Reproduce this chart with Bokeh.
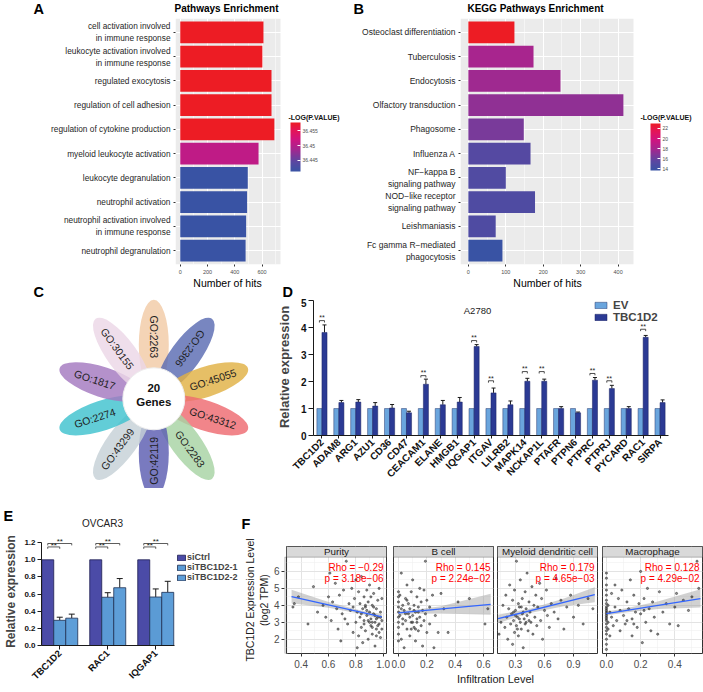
import math
from bokeh.plotting import figure
from bokeh.models import (Range1d, FactorRange, LinearColorMapper, ColorBar, FixedTicker,
                          Label, Legend, LegendItem, Whisker, TeeHead, BoxAnnotation,
                          ColumnDataSource, NumeralTickFormatter)
from bokeh.transform import transform, dodge
from bokeh.layouts import row, column
from bokeh.embed import file_html
from bokeh.resources import INLINE
from bokeh.core.properties import value

FONT = "Liberation Sans"
M = "\u2212"

# ---------------- data ----------------
A_TERMS = ["cell activation involved\nin immune response",
           "leukocyte activation involved\nin immune response",
           "regulated exocytosis",
           "regulation of cell adhesion",
           "regulation of cytokine production",
           "myeloid leukocyte activation",
           "leukocyte degranulation",
           "neutrophil activation",
           "neutrophil activation involved\nin immune response",
           "neutrophil degranulation"]
A_HITS = [610, 602, 669, 669, 690, 574, 495, 490, 483, 479]
A_LOGP = [36.4579, 36.4579, 36.4579, 36.4579, 36.4579, 36.4508, 36.4411, 36.4411, 36.4411, 36.4411]
A_XTICKS = [0, 200, 400, 600]
A_CB_TICKS = [36.445, 36.450, 36.455]

B_TERMS = ["Osteoclast differentiation", "Tuberculosis", "Endocytosis",
           "Olfactory transduction", "Phagosome", "Influenza A",
           "NF" + M + "kappa B\nsignaling pathway",
           "NOD" + M + "like receptor\nsignaling pathway",
           "Leishmaniasis", "Fc gamma R" + M + "mediated\nphagocytosis"]
B_HITS = [123, 174, 246, 414, 148, 166, 100, 178, 73, 91]
B_LOGP = [22.98, 18.0, 17.7, 17.2, 16.5, 15.2, 15.0, 14.9, 14.9, 13.67]
B_XTICKS = [0, 100, 200, 300, 400]
B_CB_TICKS = [14, 16, 18, 20, 22]

C_TERMS = ["GO:2263", "GO:2366", "GO:45055", "GO:43312", "GO:2283",
           "GO:42119", "GO:43299", "GO:2274", "GO:1817", "GO:30155"]
C_COLORS = ["#F2CBA6", "#5A6BB2", "#E0B144", "#EE6A70", "#A7D3A3",
            "#5C5DB1", "#C6D1D7", "#40C2CE", "#A479BF", "#EBD7E7"]
C_CENTER_TEXT = ["20", "Genes"]

D_GENES = ["TBC1D2", "ADAM8", "ARG1", "AZU1", "CD36", "CD47", "CEACAM1", "ELANE", "HMGB1",
           "IQGAP1", "ITGAV", "LILRB2", "MAPK14", "NCKAP1L", "PTAFR", "PTPN6", "PTPRC",
           "PTPRJ", "PYCARD", "RAC1", "SIRPA"]
D_EV = [1.0] * 21
D_TBC = [3.82, 1.22, 1.24, 1.09, 1.02, 0.84, 1.90, 1.14, 1.24, 3.30, 1.58, 1.14, 2.01,
         2.01, 1.00, 0.84, 2.05, 1.74, 1.00, 3.64, 1.22]
D_TBC_ERR = [0.28, 0.08, 0.09, 0.13, 0.13, 0.06, 0.19, 0.16, 0.17, 0.07, 0.18, 0.14, 0.11,
             0.08, 0.07, 0.03, 0.10, 0.12, 0.07, 0.07, 0.10]
D_SIG = [4.36, None, None, None, None, None, 2.32, None, None, 3.62, 2.13, None, 2.47,
         2.47, None, None, 2.40, 2.13, None, 4.04, None]
D_YTICKS = [0, 1, 2, 3, 4, 5]

E_GENES = ["TBC1D2", "RAC1", "IQGAP1"]
E_CTRL = [1.0, 1.0, 1.0]
E_SI1 = [0.294, 0.563, 0.566]
E_SI1_ERR = [0.036, 0.053, 0.094]
E_SI2 = [0.319, 0.674, 0.620]
E_SI2_ERR = [0.047, 0.107, 0.129]
E_BR1 = [1.15, 1.15, 1.15]
E_BR2 = [1.19, 1.19, 1.19]
E_YTICKS = [0, 0.2, 0.4, 0.6, 0.8, 1.0, 1.2]

F_TITLES = ["Purity", "B cell", "Myeloid dendritic cell", "Macrophage"]
F_RHO = ["Rho = " + M + "0.29", "Rho = 0.145", "Rho = 0.179", "Rho = 0.128"]
F_P = ["p = 3.18e" + M + "06", "p = 2.24e" + M + "02", "p = 4.65e" + M + "03", "p = 4.29e" + M + "02"]
F_YTICKS = [2, 3, 4, 5, 6]

PUR_X = [0.34, 0.35, 0.38, 0.45, 0.49, 0.52, 0.56, 0.58, 0.60, 0.61, 0.62, 0.63, 0.65, 0.66, 0.67,
         0.68, 0.69, 0.70, 0.71, 0.72, 0.73, 0.74, 0.75, 0.76, 0.77, 0.78, 0.78, 0.79, 0.80, 0.80,
         0.81, 0.81, 0.82, 0.82, 0.83, 0.83, 0.84, 0.84, 0.85, 0.85, 0.86, 0.86, 0.87, 0.87, 0.88,
         0.88, 0.89, 0.89, 0.90, 0.90, 0.91, 0.91, 0.92, 0.92, 0.93, 0.93, 0.94, 0.94, 0.95, 0.95,
         0.96, 0.96, 0.97, 0.97, 0.98, 0.98, 0.99, 0.99, 0.90, 0.94, 0.97, 0.86, 0.92, 0.95, 0.88,
         0.93, 0.96, 0.89, 0.91, 0.84, 0.98, 0.87, 0.95, 0.92, 0.99]
PUR_Y = [3.9, 4.1, 4.5, 2.9, 5.1, 3.6, 4.0, 3.3, 4.5, 5.9, 3.1, 4.2, 5.3, 3.8, 2.6,
         4.6, 1.9, 3.5, 4.9, 3.2, 6.6, 2.9, 4.1, 3.7, 5.0, 2.4, 3.9, 4.4, 3.0, 5.5,
         1.5, 3.6, 4.8, 2.2, 3.3, 4.1, 2.7, 5.7, 3.8, 1.8, 4.5, 3.1, 2.5, 3.9, 4.9,
         3.4, 2.0, 4.2, 3.6, 5.2, 2.8, 3.2, 4.0, 2.3, 3.5, 4.7, 1.6, 3.0, 3.8, 2.6,
         4.3, 3.3, 2.9, 5.0, 3.6, 2.1, 3.1, 4.4, 3.0, 3.4, 2.4, 2.9, 2.7, 3.2, 3.7,
         3.9, 2.8, 3.1, 4.5, 3.5, 3.3, 4.0, 2.2, 3.0, 2.6]
PUR_LINE_X = [0.33, 0.99]
PUR_LINE_Y = [4.52, 3.32]
PUR_BAND_X = [0.33, 0.60, 0.85, 0.99]
PUR_BAND_LO = [4.12, 3.86, 3.47, 3.15]
PUR_BAND_HI = [4.92, 4.20, 3.67, 3.49]

BC_X = [0.00, 0.00, 0.00, 0.00, 0.00, 0.00, 0.00, 0.00, 0.00, 0.00, 0.01, 0.01, 0.02, 0.02, 0.03,
        0.03, 0.04, 0.04, 0.05, 0.05, 0.06, 0.06, 0.07, 0.07, 0.08, 0.08, 0.09, 0.09, 0.10, 0.10,
        0.11, 0.11, 0.12, 0.12, 0.13, 0.13, 0.14, 0.14, 0.15, 0.15, 0.16, 0.16, 0.17, 0.17, 0.18,
        0.18, 0.19, 0.19, 0.20, 0.20, 0.22, 0.22, 0.24, 0.25, 0.26, 0.28, 0.30, 0.32, 0.35, 0.42,
        0.50, 0.61, 0.63, 0.10, 0.12, 0.08, 0.14, 0.05, 0.03, 0.11, 0.09, 0.06, 0.13, 0.02]
BC_Y = [4.8, 4.5, 4.2, 3.9, 3.6, 3.3, 3.0, 2.7, 2.3, 1.9, 4.6, 3.4, 2.0, 5.9, 4.0,
        2.9, 3.7, 1.5, 4.4, 3.1, 2.6, 5.2, 3.5, 4.1, 2.2, 3.8, 4.8, 3.0, 3.4, 5.5,
        2.7, 4.0, 3.6, 1.9, 4.5, 3.2, 2.5, 3.9, 5.0, 3.3, 4.2, 2.8, 3.7, 1.6, 4.9,
        3.1, 6.6, 3.5, 2.4, 4.3, 3.9, 2.9, 4.6, 1.5, 3.4, 2.4, 4.7, 3.8, 2.4, 4.2,
        4.4, 2.9, 3.8, 3.0, 2.6, 3.3, 3.6, 3.5, 3.2, 3.7, 2.6, 4.3, 3.0, 3.8]
BC_LINE_X = [0.0, 0.65]
BC_LINE_Y = [3.55, 4.06]
BC_BAND_X = [0.0, 0.10, 0.30, 0.65]
BC_BAND_LO = [3.42, 3.52, 3.52, 3.45]
BC_BAND_HI = [3.68, 3.72, 3.95, 4.69]

MY_X = [0.13, 0.15, 0.17, 0.19, 0.20, 0.21, 0.22, 0.23, 0.24, 0.25, 0.26, 0.27, 0.27, 0.28, 0.29,
        0.29, 0.30, 0.31, 0.31, 0.32, 0.33, 0.33, 0.34, 0.35, 0.35, 0.36, 0.37, 0.37, 0.38, 0.39,
        0.40, 0.40, 0.41, 0.42, 0.42, 0.43, 0.44, 0.45, 0.46, 0.47, 0.48, 0.49, 0.50, 0.51, 0.52,
        0.53, 0.55, 0.56, 0.57, 0.58, 0.60, 0.62, 0.63, 0.65, 0.67, 0.70, 0.72, 0.74, 0.77, 0.80,
        0.83, 0.87, 0.90, 0.95, 1.00, 1.05, 1.10, 0.34, 0.38, 0.44, 0.30, 0.32, 0.36, 0.41, 0.28]
MY_Y = [2.3, 3.0, 4.0, 2.7, 4.6, 3.3, 2.0, 3.8, 5.2, 2.9, 3.5, 4.3, 1.7, 3.1, 2.4,
        4.9, 3.7, 2.8, 6.6, 3.3, 4.1, 2.2, 3.9, 5.5, 3.0, 2.6, 4.4, 3.5, 1.5, 3.2,
        4.8, 2.9, 3.8, 5.9, 3.4, 2.5, 4.2, 3.6, 3.0, 5.1, 2.3, 4.0, 3.3, 4.6, 2.8,
        3.9, 5.3, 3.1, 4.4, 2.0, 3.7, 4.9, 3.4, 2.7, 4.1, 3.6, 5.6, 3.2, 4.3, 2.6,
        3.9, 4.6, 3.3, 4.0, 2.9, 4.4, 3.8, 3.2, 3.6, 3.1, 3.4, 2.6, 3.9, 3.0, 3.6]
MY_LINE_X = [0.12, 1.12]
MY_LINE_Y = [3.21, 4.63]
MY_BAND_X = [0.12, 0.45, 0.80, 1.12]
MY_BAND_LO = [2.95, 3.55, 3.95, 4.18]
MY_BAND_HI = [3.45, 3.80, 4.40, 5.06]

MAC_X = [0.00, 0.00, 0.00, 0.00, 0.00, 0.00, 0.00, 0.00, 0.00, 0.00, 0.00, 0.00, 0.00, 0.00, 0.00,
         0.00, 0.00, 0.00, 0.00, 0.01, 0.01, 0.02, 0.02, 0.03, 0.03, 0.04, 0.05, 0.05, 0.06, 0.07,
         0.08, 0.08, 0.09, 0.10, 0.11, 0.12, 0.13, 0.14, 0.15, 0.15, 0.16, 0.17, 0.18, 0.19, 0.20,
         0.20, 0.21, 0.22, 0.23, 0.24, 0.25, 0.26, 0.27, 0.28, 0.30, 0.31, 0.33, 0.35, 0.37, 0.40,
         0.41, 0.42, 0.45, 0.48, 0.50, 0.53, 0.54, 0.00, 0.00, 0.00, 0.00, 0.01, 0.12, 0.16, 0.22]
MAC_Y = [1.4, 1.7, 2.0, 2.3, 2.5, 2.7, 2.9, 3.1, 3.3, 3.5, 3.7, 3.9, 4.1, 4.3, 4.6,
         4.9, 5.2, 5.6, 5.9, 3.0, 4.0, 3.6, 2.2, 4.7, 3.3, 2.8, 5.2, 3.9, 3.1, 4.4,
         2.5, 3.7, 4.9, 3.4, 2.9, 4.2, 3.8, 5.5, 2.2, 3.2, 4.6, 3.6, 2.7, 4.1, 6.0,
         3.5, 1.8, 4.4, 3.0, 5.0, 3.8, 2.5, 4.2, 3.3, 2.3, 4.8, 3.6, 4.1, 2.9, 3.9,
         4.7, 2.8, 4.3, 3.7, 4.5, 6.6, 5.0, 3.2, 3.4, 3.6, 3.8, 2.6, 3.1, 2.9, 3.7]
MAC_LINE_X = [0.0, 0.55]
MAC_LINE_Y = [3.51, 4.40]
MAC_BAND_X = [0.0, 0.10, 0.30, 0.55]
MAC_BAND_LO = [3.40, 3.56, 3.78, 3.88]
MAC_BAND_HI = [3.64, 3.80, 4.22, 4.95]


# ---------------- helpers ----------------
def mix_palette(stops, n=256):
    out = []
    for i in range(n):
        t = i / (n - 1)
        for (p0, c0), (p1, c1) in zip(stops[:-1], stops[1:]):
            if p0 <= t <= p1:
                f = (t - p0) / (p1 - p0)
                a = [int(c0[k:k + 2], 16) for k in (1, 3, 5)]
                b = [int(c1[k:k + 2], 16) for k in (1, 3, 5)]
                out.append("#%02x%02x%02x" % tuple(round(a[j] + (b[j] - a[j]) * f) for j in range(3)))
                break
    return out


GRAD = mix_palette([(0.0, "#3953A4"), (0.2, "#5B47A1"), (0.45, "#A4278F"),
                    (0.65, "#CF1480"), (0.85, "#E51554"), (1.0, "#ED1C24")])


def lab(p, FL, FB, x, y, text, size, bold=False, color="#000000", align="left",
        baseline="middle", angle=0.0):
    """x, y: canvas-local px (y down); FL/FB: frame left / frame bottom in canvas px."""
    p.add_layout(Label(x=x - FL, y=FB - y, x_units="screen", y_units="screen", text=text,
                       text_font=FONT, text_font_size=f"{size}px",
                       text_font_style="bold" if bold else "normal", text_color=color,
                       text_align=align, text_baseline=baseline, angle=angle))


def fig(**kw):
    p = figure(output_backend="svg", toolbar_location=None, **kw)
    p.outline_line_color = None
    return p


def strip_fig(w, h):
    return fig(frame_width=w, frame_height=h, x_range=Range1d(0, w), y_range=Range1d(0, h),
               x_axis_type=None, y_axis_type=None, min_border=0)


# ---------------- header row 1 (y 0..16) ----------------
H1 = 16
hdr1 = strip_fig(703, H1)
lab(hdr1, 0, H1, 33, 8, "A", 14.5, bold=True)
lab(hdr1, 0, H1, 226, 8, "Pathways Enrichment", 10, bold=True, align="center")
lab(hdr1, 0, H1, 353, 8, "B", 14.5, bold=True)
lab(hdr1, 0, H1, 535, 8, "KEGG Pathways Enrichment", 10, bold=True, align="center")


# ---------------- Panel A / B (y 16..276) ----------------
def gg_bar_panel(terms, hits, logp, xr, xticks, minor, FL, FW_DATA, FW, cb_ticks, cb_x,
                 cb_bottom, cb_h, lab_size, cbt_x):
    FT, FH, FBm = 2, 246, 12
    FB = FT + FH
    x_end = xr[0] + (xr[1] - xr[0]) * FW / FW_DATA   # frame widened to hold the legend
    src = ColumnDataSource(dict(term=terms, hits=hits, logp=logp))
    mapper = LinearColorMapper(palette=GRAD, low=min(logp), high=max(logp))
    p = fig(frame_width=FW, frame_height=FH, x_range=Range1d(xr[0], x_end),
            y_range=FactorRange(factors=terms[::-1], range_padding=0.07,
                                range_padding_units="absolute"),
            min_border_left=FL, min_border_right=0, min_border_top=FT,
            min_border_bottom=FBm)
    p.add_layout(BoxAnnotation(right=xr[1], fill_color="#EBEBEB", fill_alpha=1,
                               line_color=None, level="image"))
    p.hbar(y="term", left=0, right="hits", height=0.9, source=src,
           fill_color=transform("logp", mapper), line_color=None)
    p.xaxis.ticker = FixedTicker(ticks=xticks, minor_ticks=minor)
    p.xaxis.bounds = xr
    p.xgrid.grid_line_color = "white"
    p.xgrid.grid_line_width = 1.1
    p.xgrid.minor_grid_line_color = "white"
    p.xgrid.minor_grid_line_width = 0.5
    p.ygrid.grid_line_color = "white"
    p.ygrid.grid_line_width = 1.1
    for ax in (p.xaxis[0], p.yaxis[0]):
        ax.axis_line_color = None
        ax.major_tick_line_color = "#333333"
        ax.major_tick_in = 0
        ax.major_tick_out = 2
        ax.minor_tick_line_color = None
        ax.major_label_text_font = FONT
    p.xaxis.major_label_text_font_size = "5.5px"
    p.xaxis.major_label_text_color = "#4D4D4D"
    p.xaxis.major_label_standoff = 1
    p.yaxis.major_label_text_font_size = f"{lab_size}px"
    p.yaxis.major_label_text_color = "#262626"
    p.yaxis.major_label_standoff = 3
    cb = ColorBar(color_mapper=mapper, location=(cb_x - FL, FB - cb_bottom), width=10,
                  height=cb_h, padding=0, margin=0, orientation="vertical",
                  ticker=FixedTicker(ticks=cb_ticks), major_label_text_font=FONT,
                  major_label_text_font_size="5px", major_label_text_color="#4D4D4D",
                  major_tick_line_color="white", major_tick_in=3, major_tick_out=0,
                  label_standoff=2, bar_line_color=None, background_fill_alpha=0,
                  border_line_color=None)
    p.add_layout(cb)
    lab(p, FL, FB, cbt_x, 101, "-LOG(P.VALUE)", 7, bold=True, color="#111111")
    return p


# A: frame x 175..350 (data part 175..280); B: frame 460..703 (data part 460..633)
pA = gg_bar_panel(A_TERMS, A_HITS, A_LOGP, (-35, 735), A_XTICKS, [100, 300, 500, 700],
                  175, 105, 175, A_CB_TICKS, 290, 155, 49, 8.3, 288)
pB = gg_bar_panel(B_TERMS, B_HITS, B_LOGP, (-21, 441), B_XTICKS, [50, 150, 250, 350],
                  110, 173, 243, B_CB_TICKS, 300, 154, 47, 8.5, 290)

# ---------------- header row 2 (y 276..298) ----------------
H2 = 22
hdr2 = strip_fig(703, H2)
lab(hdr2, 0, H2, 227, 6, "Number of hits", 10.5, align="center")
lab(hdr2, 0, H2, 547, 6, "Number of hits", 10.5, align="center")
lab(hdr2, 0, H2, 33, 15, "C", 14.5, bold=True)
lab(hdr2, 0, H2, 282, 15, "D", 14.5, bold=True)

# ---------------- Panel C (y 298..488) ----------------
CW, CH = 253, 190
pC = strip_fig(CW, CH)
cx, cy = 153.3, 89.7
angs, px, py, tx, ty, trot = [], [], [], [], [], []
for i, t in enumerate(C_TERMS):
    deg = 90 - 36 * i
    a = math.radians(deg)
    angs.append(a)
    px.append(cx + 54 * math.cos(a))
    py.append(cy + 54 * math.sin(a))
    tx.append(cx + 62 * math.cos(a))
    ty.append(cy + 62 * math.sin(a))
    trot.append(math.radians(deg if -60 < deg < 30 else deg + 180))
srcC = ColumnDataSource(dict(x=px, y=py, a=angs, c=C_COLORS, tx=tx, ty=ty, t=C_TERMS, r=trot))
pC.ellipse(x="x", y="y", width=90, height=30, angle="a", fill_color="c", fill_alpha=0.82,
           line_color=None, source=srcC)
pC.circle(x=[cx], y=[cy], radius=31, fill_color="white", line_color="#EEEEEE", line_width=1)
pC.text(x="tx", y="ty", text="t", angle="r", source=srcC, text_align="center",
        text_baseline="middle", text_font=value(FONT), text_font_size="10.5px",
        text_color="#1E1E1E")
pC.text(x=[cx, cx], y=[cy + 11, cy - 3], text=C_CENTER_TEXT, text_align="center",
        text_baseline="middle", text_font=value(FONT), text_font_size="11.5px",
        text_font_style="bold", text_color="#111111")

# ---------------- Panel D (y 298..488) ----------------
DL, DFW, DR, DT, DFH, DBm = 60, 355, 35, 0, 137, 53
DFB = DT + DFH
srcD = ColumnDataSource(dict(gene=D_GENES, ev=D_EV, tbc=D_TBC,
                             up=[a + b for a, b in zip(D_TBC, D_TBC_ERR)]))
pD = fig(frame_width=DFW, frame_height=DFH, x_range=FactorRange(factors=D_GENES, range_padding=0),
         y_range=Range1d(0, 5.08), min_border_left=DL, min_border_right=DR,
         min_border_top=DT, min_border_bottom=DBm)
pD.grid.visible = False
rEV = pD.vbar(x=dodge("gene", -0.15, range=pD.x_range), top="ev", width=0.3, source=srcD,
              fill_color="#6AA5DD", line_color="#2A3A70", line_width=0.5)
rTB = pD.vbar(x=dodge("gene", 0.15, range=pD.x_range), top="tbc", width=0.3, source=srcD,
              fill_color="#2B3A94", line_color="#1A2260", line_width=0.5)
pD.add_layout(Whisker(source=srcD, base=dodge("gene", 0.15, range=pD.x_range), lower="tbc",
                      upper="up", dimension="height", line_color="#1A1A1A", line_width=1,
                      upper_head=TeeHead(size=4, line_color="#1A1A1A", line_width=1),
                      lower_head=None))
sig_i = [i for i, s in enumerate(D_SIG) if s is not None]
srcDs = ColumnDataSource(dict(gene=[D_GENES[i] for i in sig_i],
                              y=[D_SIG[i] for i in sig_i],
                              yb=[D_SIG[i] - 0.1 for i in sig_i],
                              yt=[D_SIG[i] - 0.17 for i in sig_i]))
pD.segment(x0=dodge("gene", -0.15, range=pD.x_range), x1=dodge("gene", 0.15, range=pD.x_range),
           y0="yb", y1="yb", source=srcDs, line_color="#222222", line_width=0.8)
for off in (-0.15, 0.15):
    pD.segment(x0=dodge("gene", off, range=pD.x_range), x1=dodge("gene", off, range=pD.x_range),
               y0="yb", y1="yt", source=srcDs, line_color="#222222", line_width=0.8)
pD.text(x="gene", y="y", text=value("**"), source=srcDs, text_align="center",
        text_baseline="middle", text_font=value(FONT), text_font_size="7px",
        text_color="#222222")
pD.yaxis.ticker = FixedTicker(ticks=D_YTICKS)
pD.yaxis.bounds = (0, 5)
for ax in (pD.xaxis[0], pD.yaxis[0]):
    ax.axis_line_color = "#1A1A1A"
    ax.axis_line_width = 1
    ax.major_tick_line_color = "#1A1A1A"
    ax.major_tick_in = 0
    ax.minor_tick_line_color = None
    ax.major_label_text_font = FONT
    ax.major_label_text_font_style = "bold"
    ax.major_label_text_color = "#111111"
pD.yaxis.major_tick_out = 5
pD.yaxis.major_label_text_font_size = "10px"
pD.yaxis.major_label_standoff = 2
pD.yaxis.axis_label = "Relative expression"
pD.yaxis.axis_label_text_font = FONT
pD.yaxis.axis_label_text_font_size = "13px"
pD.yaxis.axis_label_text_font_style = "bold"
pD.yaxis.axis_label_standoff = 6
pD.xaxis.major_tick_out = 3
pD.xaxis.major_label_text_font_size = "10px"
pD.xaxis.major_label_orientation = math.pi / 4
pD.xaxis.major_label_standoff = 2
legD = Legend(items=[LegendItem(label="EV", renderers=[rEV]),
                     LegendItem(label="TBC1D2", renderers=[rTB])],
              location=(340 - DL, DFB - 25), glyph_width=15, glyph_height=8, label_height=8,
              spacing=0, padding=0, margin=0, label_standoff=5, label_text_font=FONT,
              label_text_font_size="11.5px", label_text_font_style="bold",
              border_line_color=None, background_fill_alpha=0)
pD.add_layout(legD)
lab(pD, DL, DFB, 224, 12, "A2780", 9.5, color="#222222", align="center")

# ---------------- header row 3 (y 488..535) ----------------
H3 = 47
hdr3 = strip_fig(703, H3)
lab(hdr3, 0, H3, 3, 27, "E", 14.5, bold=True)
lab(hdr3, 0, H3, 102, 35, "OVCAR3", 10, color="#222222", align="center")
lab(hdr3, 0, H3, 241, 35, "F", 14.5, bold=True)

# ---------------- Panel E (y 535..692) ----------------
EL, ET, EFH, EBm = 41, 2, 108, 47
EFW = 240 - EL
EFB = ET + EFH
E_POS = list(range(len(E_GENES)))
E_XR = (-0.38, 2.39)
E_PX_PER_UNIT = 48.0
srcE = ColumnDataSource(dict(pos=E_POS, ctrl=E_CTRL, s1=E_SI1, s2=E_SI2,
                             u1=[a + b for a, b in zip(E_SI1, E_SI1_ERR)],
                             u2=[a + b for a, b in zip(E_SI2, E_SI2_ERR)],
                             b1=E_BR1, b2=E_BR2,
                             b1t=[v - 0.022 for v in E_BR1], b2t=[v - 0.022 for v in E_BR2],
                             s1y=[v + 0.018 for v in E_BR1], s2y=[v + 0.018 for v in E_BR2]))
pE = fig(frame_width=EFW, frame_height=EFH,
         x_range=Range1d(E_XR[0], E_XR[0] + EFW / E_PX_PER_UNIT),
         y_range=Range1d(0, 1.26), min_border_left=EL, min_border_right=0,
         min_border_top=ET, min_border_bottom=EBm)
pE.grid.visible = False
rC = pE.vbar(x=dodge("pos", -0.25), top="ctrl", width=0.25, source=srcE,
             fill_color="#4B4BA7", line_color="#1E1E50", line_width=0.8)
r1 = pE.vbar(x=dodge("pos", 0.0), top="s1", width=0.25, source=srcE,
             fill_color="#5B9BD5", line_color="#1E2E50", line_width=0.8)
r2 = pE.vbar(x=dodge("pos", 0.25), top="s2", width=0.25, source=srcE,
             fill_color="#5E9ED8", line_color="#1E2E50", line_width=0.8)
for off, lo, up in ((0.0, "s1", "u1"), (0.25, "s2", "u2")):
    pE.add_layout(Whisker(source=srcE, base=dodge("pos", off), lower=lo,
                          upper=up, dimension="height", line_color="#1A1A1A", line_width=1,
                          upper_head=TeeHead(size=6, line_color="#1A1A1A", line_width=1),
                          lower_head=None))
for off_end, yb, yt, sy, mid in ((0.0, "b1", "b1t", "s1y", -0.125), (0.25, "b2", "b2t", "s2y", 0.0)):
    pE.segment(x0=dodge("pos", -0.25), x1=dodge("pos", off_end),
               y0=yb, y1=yb, source=srcE, line_color="#333333", line_width=0.8)
    for o in (-0.25, off_end):
        pE.segment(x0=dodge("pos", o), x1=dodge("pos", o),
                   y0=yb, y1=yt, source=srcE, line_color="#333333", line_width=0.8)
    pE.text(x=dodge("pos", mid), y=sy, text=value("**"), source=srcE,
            text_align="center", text_baseline="middle", text_font=value(FONT),
            text_font_size="8px", text_color="#222222")
pE.yaxis.ticker = FixedTicker(ticks=E_YTICKS)
pE.yaxis.formatter = NumeralTickFormatter(format="0.0")
pE.yaxis.bounds = (0, 1.2)
pE.xaxis.ticker = FixedTicker(ticks=E_POS)
pE.xaxis.major_label_overrides = {i: g for i, g in zip(E_POS, E_GENES)}
pE.xaxis.bounds = E_XR
for ax in (pE.xaxis[0], pE.yaxis[0]):
    ax.axis_line_color = "#1A1A1A"
    ax.axis_line_width = 1
    ax.major_tick_line_color = "#1A1A1A"
    ax.major_tick_in = 0
    ax.major_tick_out = 4
    ax.minor_tick_line_color = None
    ax.major_label_text_font = FONT
    ax.major_label_text_font_style = "bold"
    ax.major_label_text_color = "#111111"
pE.yaxis.major_label_text_font_size = "8px"
pE.yaxis.major_label_standoff = 2
pE.yaxis.axis_label = "Relative expression"
pE.yaxis.axis_label_text_font = FONT
pE.yaxis.axis_label_text_font_size = "12px"
pE.yaxis.axis_label_text_font_style = "bold"
pE.yaxis.axis_label_standoff = 3
pE.xaxis.major_label_text_font_size = "9.5px"
pE.xaxis.major_label_orientation = math.pi / 4
pE.xaxis.major_label_standoff = 2
legE = Legend(items=[LegendItem(label="siCtrl", renderers=[rC]),
                     LegendItem(label="siTBC1D2-1", renderers=[r1]),
                     LegendItem(label="siTBC1D2-2", renderers=[r2])],
              location=(176 - EL, 63), glyph_width=10, glyph_height=7, label_height=7,
              spacing=0, padding=0, margin=0, label_standoff=1, label_text_font=FONT,
              label_text_font_size="9px", label_text_font_style="bold",
              border_line_color=None, background_fill_alpha=0)
pE.add_layout(legE)

# ---------------- Panel F (y 535..692) ----------------
FH, FT, FBm = 135, 11, 17
FFH = FH - FT - FBm
STRIP_Y0 = 6.84
F_YR = Range1d(1.16, 7.47)

F0L, F0W = 35, 11
pF0 = fig(width=F0L + F0W, height=FH, x_range=Range1d(0, 1), y_range=F_YR,
          x_axis_location=None, min_border_left=F0L, min_border_right=0, min_border_top=FT,
          min_border_bottom=FBm)
pF0.grid.visible = False
pF0.add_layout(BoxAnnotation(top=STRIP_Y0, fill_color="#D9D9D9", fill_alpha=1,
                             line_color="#333333", line_width=1))
pF0.add_layout(Label(x=F0W / 2, x_units="screen", y=(F_YR.start + STRIP_Y0) / 2, y_units="data",
                     text="OV", angle=math.pi / 2, text_align="center", text_baseline="middle",
                     text_font=FONT, text_font_size="6px", text_color="#1A1A1A"))
ax = pF0.yaxis[0]
ax.ticker = FixedTicker(ticks=F_YTICKS)
ax.axis_line_color = None
ax.major_tick_line_color = "#333333"
ax.major_tick_in = 0
ax.major_tick_out = 3
ax.minor_tick_line_color = None
ax.major_label_text_font = FONT
ax.major_label_text_font_size = "10px"
ax.major_label_text_color = "#4D4D4D"
ax.major_label_standoff = 2
ax.axis_label = "TBC1D2 Expression Level\n(log2 TPM)"
ax.axis_label_text_font = FONT
ax.axis_label_text_font_size = "10.5px"
ax.axis_label_text_font_style = "normal"
ax.axis_label_text_color = "#1A1A1A"
ax.axis_label_standoff = 1

facets = [
    (PUR_X, PUR_Y, PUR_LINE_X, PUR_LINE_Y, PUR_BAND_X, PUR_BAND_LO, PUR_BAND_HI,
     (0.293, 1.024), [0.4, 0.6, 0.8, 1.0], [0.3, 0.5, 0.7, 0.9], 0, 4),
    (BC_X, BC_Y, BC_LINE_X, BC_LINE_Y, BC_BAND_X, BC_BAND_LO, BC_BAND_HI,
     (-0.035, 0.67), [0.0, 0.2, 0.4, 0.6], [0.1, 0.3, 0.5], 3, 2),
    (MY_X, MY_Y, MY_LINE_X, MY_LINE_Y, MY_BAND_X, MY_BAND_LO, MY_BAND_HI,
     (0.114, 1.148), [0.3, 0.6, 0.9], [0.15, 0.45, 0.75, 1.05], 2, 1),
    (MAC_X, MAC_Y, MAC_LINE_X, MAC_LINE_Y, MAC_BAND_X, MAC_BAND_LO, MAC_BAND_HI,
     (-0.023, 0.562), [0.0, 0.2, 0.4], [0.1, 0.3, 0.5], 4, 1),
]
FWF = 100
fpanels = [pF0]
for k, (xs, ys, lx, ly, bx, blo, bhi, xr, xt, xm, bl, br) in enumerate(facets):
    p = fig(width=bl + FWF + br, height=FH, x_range=Range1d(*xr), y_range=F_YR,
            y_axis_location=None, min_border_left=bl, min_border_right=br,
            min_border_top=FT, min_border_bottom=FBm)
    p.outline_line_color = "#333333"
    p.outline_line_width = 1
    p.xaxis.ticker = FixedTicker(ticks=xt, minor_ticks=xm)
    p.xaxis.formatter = NumeralTickFormatter(format="0.0")
    p.ygrid.ticker = FixedTicker(ticks=F_YTICKS, minor_ticks=[1.5, 2.5, 3.5, 4.5, 5.5, 6.5])
    for g in (p.xgrid[0], p.ygrid[0]):
        g.grid_line_color = "#E3E3E3"
        g.grid_line_width = 1
        g.minor_grid_line_color = "#F0F0F0"
        g.minor_grid_line_width = 0.6
    xa = p.xaxis[0]
    xa.axis_line_color = None
    xa.major_tick_line_color = "#333333"
    xa.major_tick_in = 0
    xa.major_tick_out = 3
    xa.minor_tick_line_color = None
    xa.major_label_text_font = FONT
    xa.major_label_text_font_size = "10px"
    xa.major_label_text_color = "#4D4D4D"
    xa.major_label_standoff = 2
    p.varea(x=bx, y1=blo, y2=bhi, fill_color="#999999", fill_alpha=0.45)
    p.scatter(x=xs, y=ys, size=2.2, fill_color="#222222", line_color="#222222",
              fill_alpha=0.5, line_alpha=0.5)
    p.line(x=lx, y=ly, line_color="#3366FF", line_width=1.3)
    p.add_layout(BoxAnnotation(bottom=STRIP_Y0, fill_color="#D9D9D9", fill_alpha=1,
                               line_color="#333333", line_width=1))
    p.add_layout(Label(x=FWF / 2, x_units="screen", y=(STRIP_Y0 + F_YR.end) / 2, y_units="data",
                       text=F_TITLES[k], text_align="center", text_baseline="middle",
                       text_font=FONT, text_font_size="9.8px", text_color="#1A1A1A"))
    for yy, tt in ((86, F_RHO[k]), (75, F_P[k])):
        p.add_layout(Label(x=FWF - 3, y=yy, x_units="screen", y_units="screen", text=tt,
                           text_align="right", text_baseline="middle", text_font=FONT,
                           text_font_size="10px", text_color="#FF0000"))
    fpanels.append(p)

pFL = fig(width=463, height=22, x_range=Range1d(0, 1), y_range=Range1d(0, 1),
          x_axis_type=None, y_axis_type=None, min_border=0)
pFL.add_layout(Label(x=255, y=14, x_units="screen", y_units="screen", text="Infiltration Level",
                     text_align="center", text_baseline="middle", text_font=FONT,
                     text_font_size="11px", text_color="#1A1A1A"))

layout = column(hdr1, row(pA, pB), hdr2, row(pC, pD), hdr3,
                row(pE, column(row(*fpanels), pFL)))

open("out.html", "w").write(file_html(layout, INLINE))
